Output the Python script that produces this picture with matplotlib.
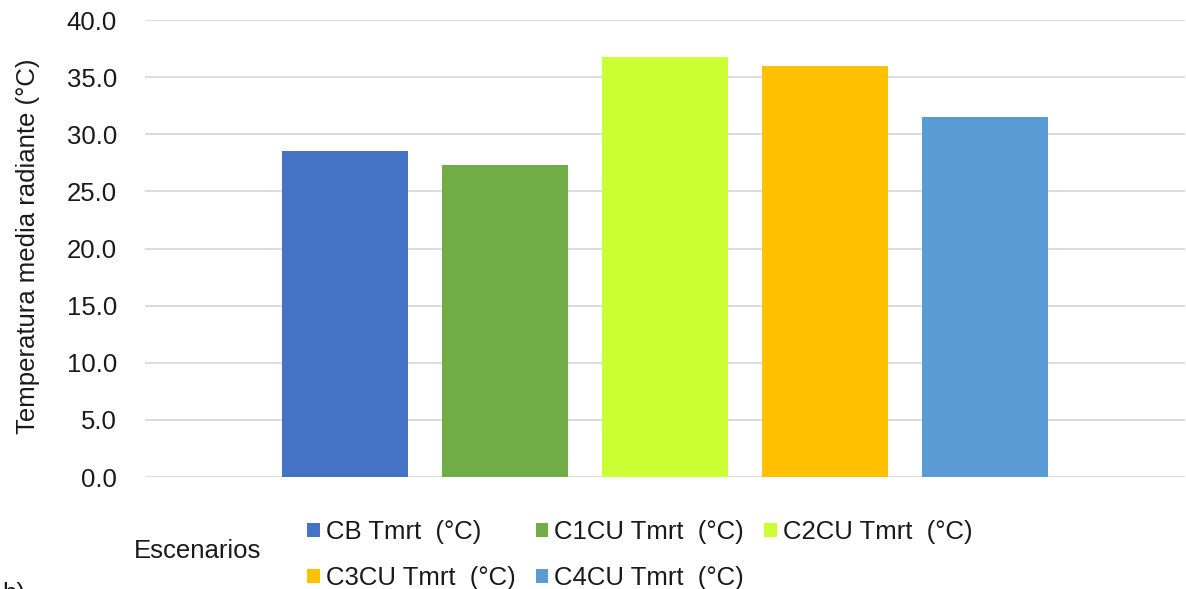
import matplotlib
matplotlib.use("Agg")
import matplotlib.pyplot as plt
import numpy as np

plt.rcParams['font.family'] = ['Liberation Sans', 'DejaVu Sans']

# series (one bar each, single category "Escenarios")
series = ['CB Tmrt  (°C)', 'C1CU Tmrt  (°C)', 'C2CU Tmrt  (°C)',
          'C3CU Tmrt  (°C)', 'C4CU Tmrt  (°C)']
values = [28.5, 27.3, 36.8, 36.0, 31.5]
colors = ['#4472C4', '#70AD47', '#CCFF33', '#FFC000', '#5B9BD5']
yticks = [0, 5, 10, 15, 20, 25, 30, 35, 40]

fs = 18.5
txt = '#1a1a1a'

fig = plt.figure(figsize=(11.86, 5.89), dpi=100)
ax = fig.add_axes([0.122, 0.19, 0.877, 0.776])

x = np.arange(len(values))
bars = []
for i in range(len(values)):
    b = ax.bar(x[i], values[i], width=0.79, color=colors[i], label=series[i], zorder=3)
    bars.append(b)

ax.set_xlim(-1.25, 5.25)
ax.set_ylim(0, 40)
ax.set_yticks(yticks)
ax.set_yticklabels([f"{v:.1f}" for v in yticks], fontsize=fs, color=txt)
ax.tick_params(axis='y', length=0, pad=20)
ax.set_xticks([])
ax.grid(axis='y', color='#d9d9d9', linewidth=1.3, zorder=0)
for s in ax.spines.values():
    s.set_visible(False)

ax.set_ylabel("Temperatura media radiante (°C)", fontsize=fs, color=txt, va='center')
ax.yaxis.set_label_coords(-0.112, 0.504)

fig.text(198 / 1186, 1 - 551 / 589, "Escenarios", fontsize=fs, color=txt,
         ha='center', va='center')

# legend filled row by row: CB, C1CU, C2CU / C3CU, C4CU
order = [0, 3, 1, 4, 2]
fig.legend([bars[i] for i in order], [series[i] for i in order],
           loc='center left', bbox_to_anchor=(307 / 1186, 1 - 555 / 589), ncol=3,
           frameon=False, fontsize=fs, handlelength=0.5, handleheight=0.5,
           handletextpad=0.23, columnspacing=0.78, labelspacing=0.86,
           borderpad=0, borderaxespad=0, labelcolor=txt)

# panel label, cut by the bottom edge as in the source
fig.text(0.002, 1 - 582 / 589, "b)", fontsize=fs, color=txt, va='top')

fig.savefig("out.png", dpi=100)
